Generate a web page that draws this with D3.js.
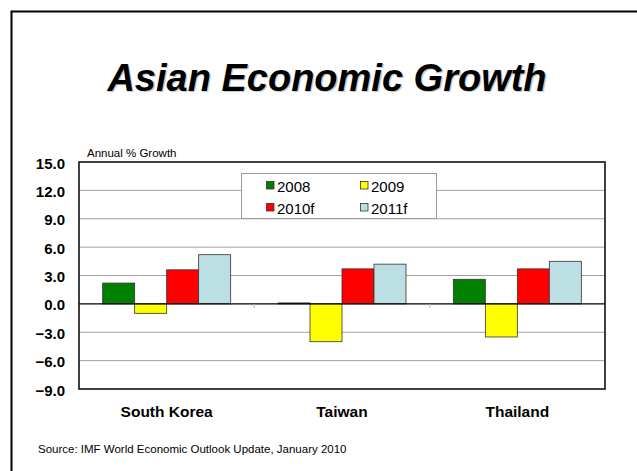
<!DOCTYPE html>
<html>
<head>
<meta charset="utf-8">
<script src="https://cdn.jsdelivr.net/npm/d3@7"></script>
<style>
  html, body { margin: 0; padding: 0; background: #fff; }
  svg { display: block; font-family: Arial, "Liberation Sans", Helvetica, sans-serif; }
</style>
</head>
<body>
<svg id="chart" width="637" height="471"></svg>
<script>
// Annual % GDP growth, IMF WEO Update (Jan 2010)
const countries = ["South Korea", "Taiwan", "Thailand"];
const seriesNames = ["2008", "2009", "2010f", "2011f"];
const growth2008 = [2.2, 0.1, 2.6];
const growth2009 = [-1.0, -4.0, -3.5];
const growth2010f = [3.6, 3.7, 3.7];
const growth2011f = [5.2, 4.2, 4.5];
const seriesColors = ["#008000", "#ffff00", "#ff0000", "#bbdfe2"];
const yTicks = [-9, -6, -3, 0, 3, 6, 9, 12, 15];

const seriesValues = [growth2008, growth2009, growth2010f, growth2011f];

const svg = d3.select("#chart");

// Page frame (open on the right and bottom)
svg.append("path")
  .attr("d", "M11.5,471 L11.5,11.5 L637,11.5")
  .attr("fill", "none").attr("stroke", "#000").attr("stroke-width", 2);

// Title with soft drop shadow
const titleX = 327, titleY = 91;
[["#c8c8c8", 1.3], ["#000", 0]].forEach(([fill, off]) => {
  svg.append("text")
    .attr("x", titleX + off).attr("y", titleY + off)
    .attr("text-anchor", "middle")
    .attr("font-size", 38).attr("font-weight", "bold").attr("font-style", "italic")
    .attr("fill", fill)
    .text("Asian Economic Growth");
});

const plot = { left: 79, right: 605, top: 162, bottom: 389 };

const x = d3.scaleBand().domain(countries).range([plot.left, plot.right]).paddingInner(0).paddingOuter(0);
const y = d3.scaleLinear().domain([-9, 15]).range([plot.bottom, plot.top]);
const groupWidth = x.bandwidth() * 0.73;
const xs = d3.scaleBand().domain(seriesNames).range([0, groupWidth]);

// Gridlines
svg.append("g")
  .selectAll("line")
  .data(yTicks.filter(t => t !== 0 && t !== -9 && t !== 15))
  .join("line")
  .attr("x1", plot.left).attr("x2", plot.right)
  .attr("y1", d => y(d)).attr("y2", d => y(d))
  .attr("stroke", "#a0a0a0").attr("stroke-width", 1);

// Y axis labels
const yAxis = d3.axisLeft(y).tickValues(yTicks).tickSize(0).tickPadding(14).tickFormat(d3.format(".1f"));
const gy = svg.append("g").attr("transform", `translate(${plot.left},0)`).call(yAxis);
gy.select(".domain").remove();
gy.selectAll("text")
  .attr("font-size", 15).attr("font-weight", "bold")
  .attr("font-family", "Arial, 'Liberation Sans', sans-serif")
  .attr("dy", "0.4em")
  .attr("fill", "#000");

// Bars
const groups = svg.append("g")
  .selectAll("g")
  .data(countries)
  .join("g")
  .attr("transform", c => `translate(${x(c) + (x.bandwidth() - groupWidth) / 2},0)`);

groups.selectAll("rect")
  .data((c, i) => seriesNames.map((s, k) => ({ s, k, v: seriesValues[k][i] })))
  .join("rect")
  .attr("x", d => xs(d.s))
  .attr("width", xs.bandwidth())
  .attr("y", d => y(Math.max(0, d.v)))
  .attr("height", d => Math.abs(y(d.v) - y(0)))
  .attr("fill", d => seriesColors[d.k])
  .attr("stroke", "#333").attr("stroke-width", 0.8);

// Zero line and category tick marks
svg.append("line")
  .attr("x1", plot.left).attr("x2", plot.right)
  .attr("y1", y(0)).attr("y2", y(0))
  .attr("stroke", "#000").attr("stroke-width", 1.2);
svg.append("g")
  .selectAll("line")
  .data(countries.slice(1))
  .join("line")
  .attr("x1", c => x(c)).attr("x2", c => x(c))
  .attr("y1", y(0)).attr("y2", y(0) + 4)
  .attr("stroke", "#bbb");

// Plot frame
svg.append("rect")
  .attr("x", plot.left).attr("y", plot.top)
  .attr("width", plot.right - plot.left).attr("height", plot.bottom - plot.top)
  .attr("fill", "none").attr("stroke", "#111").attr("stroke-width", 1.6);

// Category labels
svg.append("g")
  .selectAll("text")
  .data(countries)
  .join("text")
  .attr("x", c => x(c) + x.bandwidth() / 2)
  .attr("y", 417)
  .attr("text-anchor", "middle")
  .attr("font-size", 15.5).attr("font-weight", "bold")
  .text(c => c);

// Axis title
svg.append("text")
  .attr("x", 87).attr("y", 156.5)
  .attr("font-size", 11.5)
  .text("Annual % Growth");

// Legend
const legend = svg.append("g");
legend.append("rect")
  .attr("x", 241.5).attr("y", 173.5).attr("width", 195).attr("height", 45)
  .attr("fill", "#fff").attr("stroke", "#999");
const legendCols = [266, 360];
const legendRows = [186, 208];
const entries = legend.selectAll("g")
  .data(seriesNames)
  .join("g")
  .attr("transform", (d, i) => `translate(${legendCols[i % 2]},${legendRows[Math.floor(i / 2)]})`);
entries.append("rect")
  .attr("x", 0.5).attr("y", -4.5).attr("width", 7.5).attr("height", 7.5)
  .attr("fill", (d, i) => seriesColors[i])
  .attr("stroke", "#333").attr("stroke-width", 0.8);
entries.append("text")
  .attr("x", 11).attr("y", 5.5)
  .attr("font-size", 15)
  .text(d => d);

// Source note
svg.append("text")
  .attr("x", 38).attr("y", 453)
  .attr("font-size", 11.5)
  .text("Source:  IMF World Economic Outlook Update, January 2010");
</script>
</body>
</html>
